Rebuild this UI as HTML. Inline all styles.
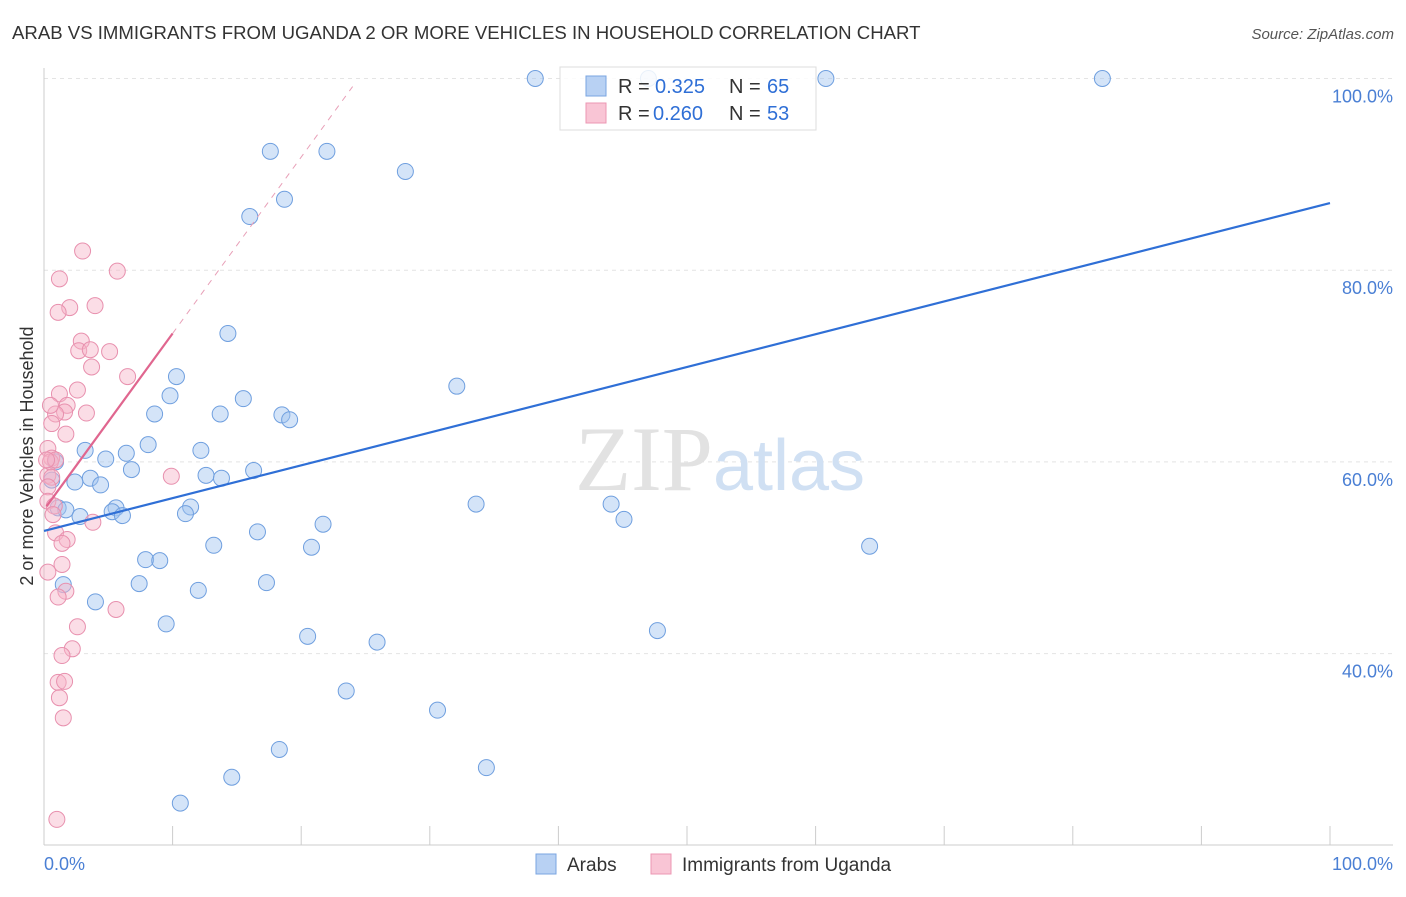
<!DOCTYPE html>
<html><head><meta charset="utf-8"><style>
body{margin:0;background:#fff;font-family:"Liberation Sans",sans-serif}
</style></head><body>
<svg width="1406" height="892" xmlns="http://www.w3.org/2000/svg" font-family="Liberation Sans, sans-serif">
<text x="12" y="39" font-size="18.6" fill="#333">ARAB VS IMMIGRANTS FROM UGANDA 2 OR MORE VEHICLES IN HOUSEHOLD CORRELATION CHART</text>
<text x="1394" y="39" font-size="15" fill="#555" text-anchor="end" font-style="italic">Source: ZipAtlas.com</text>
<g id="grid"></g>
<text x="720" y="490" font-size="92" text-anchor="middle" font-family="Liberation Serif, serif"><tspan fill="#e2e2e2">ZIP</tspan><tspan fill="#d0e0f3" font-family="Liberation Sans, sans-serif" font-size="72">atlas</tspan></text>
<g id="pts"></g>
<g id="lines"></g>
<text transform="translate(33,456) rotate(-90)" font-size="18" fill="#333" text-anchor="middle">2 or more Vehicles in Household</text>
<text x="44" y="870" font-size="18" fill="#4a7fd4">0.0%</text>
<text x="1393" y="870" font-size="18" fill="#4a7fd4" text-anchor="end">100.0%</text>
<g>
<rect x="560" y="67" width="256" height="63" fill="#fff" fill-opacity="0.85" stroke="#ddd"/>
<rect x="586" y="76" width="20" height="20" fill="#b8d1f3" stroke="#7aa5e0"/>
<rect x="586" y="103" width="20" height="20" fill="#f9c5d5" stroke="#ec97b3"/>
<text x="618" y="93" font-size="20" fill="#333">R =</text>
<text x="655" y="93" font-size="20" fill="#2f6fd6">0.325</text>
<text x="729" y="93" font-size="20" fill="#333">N =</text>
<text x="767" y="93" font-size="20" fill="#2f6fd6">65</text>
<text x="618" y="120" font-size="20" fill="#333">R =</text>
<text x="653" y="120" font-size="20" fill="#2f6fd6">0.260</text>
<text x="729" y="120" font-size="20" fill="#333">N =</text>
<text x="767" y="120" font-size="20" fill="#2f6fd6">53</text>
</g>
<g>
<rect x="536" y="854" width="20" height="20" fill="#b8d1f3" stroke="#7aa5e0"/>
<text x="567" y="871" font-size="19" fill="#333">Arabs</text>
<rect x="651" y="854" width="20" height="20" fill="#f9c5d5" stroke="#ec97b3"/>
<text x="682" y="871" font-size="19" fill="#333">Immigrants from Uganda</text>
</g>
</svg>
<script>
const yTicks=[40,60,80,100];
const yTickLabels=["40.0%","60.0%","80.0%","100.0%"];
const xTicks=[0,10,20,30,40,50,60,70,80,90,100];
const arabsX=[38.2,47.0,60.8,82.3,17.6,28.1,22.0,18.7,16.0,14.3,10.3,32.1,9.8,15.5,8.6,13.7,18.5,19.1,8.1,12.2,3.2,6.4,4.8,6.8,16.3,12.6,13.8,3.6,2.4,4.4,0.9,0.6,1.1,1.7,5.6,5.3,6.1,2.8,11.4,11.0,33.6,44.1,45.1,21.7,16.6,13.2,20.8,7.9,9.0,64.2,7.4,17.3,1.5,12.0,4.0,9.5,47.7,20.5,25.9,23.5,30.6,18.3,14.6,34.4,10.6];
const arabsY=[100,100,100,100,92.4,90.3,92.4,87.4,85.6,73.4,68.9,67.9,66.9,66.6,65.0,65.0,64.9,64.4,61.8,61.2,61.2,60.9,60.3,59.2,59.1,58.6,58.3,58.3,57.9,57.6,60.0,58.1,55.2,55.0,55.2,54.8,54.4,54.3,55.3,54.6,55.6,55.6,54.0,53.5,52.7,51.3,51.1,49.8,49.7,51.2,47.3,47.4,47.2,46.6,45.4,43.1,42.4,41.8,41.2,36.1,34.1,30.0,27.1,28.1,24.4];
const ugandaX=[3.0,5.7,1.2,3.970,2.0,1.1,2.9,2.7,3.6,5.1,3.7,6.5,2.6,1.2,1.8,1.6,0.9,3.3,1.7,0.6,0.5,0.3,0.6,0.3,0.6,0.3,0.3,0.8,0.7,3.8,0.9,1.8,1.4,9.9,1.4,0.3,1.7,1.1,5.6,2.6,2.2,1.4,1.1,1.6,1.2,1.5,1.0,0.5,0.9,0.2];
const ugandaY=[82.0,79.9,79.1,76.3,76.1,75.6,72.6,71.6,71.7,71.5,69.9,68.9,67.5,67.1,65.9,65.2,65.0,65.1,62.9,64.0,65.9,61.4,60.4,58.6,58.4,57.4,55.9,55.4,54.5,53.7,52.6,51.9,51.5,58.5,49.3,48.5,46.5,45.9,44.6,42.8,40.5,39.8,37.0,37.1,35.4,33.3,22.7,60.0,60.2,60.2];
const arabsLine=[52.8,87.0];
const ugandaLine=[55.0,73.4];
const NS="http://www.w3.org/2000/svg";
const X=v=>44+v*12.86, Y=v=>1037-v*9.585;
function mk(t,a,p){const e=document.createElementNS(NS,t);for(const k in a)e.setAttribute(k,a[k]);p.appendChild(e);return e;}
const grid=document.getElementById('grid');
yTicks.forEach((v,i)=>{
 const l=mk('line',{x1:44,x2:1393,y1:Y(v),y2:Y(v),stroke:'#e4e4e4','stroke-dasharray':'4,4'},grid);
 
 const t=mk('text',{x:1393,y:Y(v)+24,'font-size':18,fill:'#4a7fd4','text-anchor':'end'},grid);
 t.textContent=yTickLabels[i];
});
let a=mk('line',{x1:44,x2:44,y1:68,y2:845,stroke:'#ccc'},grid);
a=mk('line',{x1:44,x2:1393,y1:845,y2:845,stroke:'#ccc'},grid);
xTicks.forEach(v=>{const t=mk('line',{x1:X(v),x2:X(v),y1:826,y2:845,stroke:'#ccc'},grid);
 });
const pts=document.getElementById('pts');
arabsX.forEach((x,i)=>{const c=mk('circle',{cx:X(x),cy:Y(arabsY[i]),r:8,fill:'rgba(160,195,240,0.45)',stroke:'#6f9fdf','stroke-width':1},pts);
 });
ugandaX.forEach((x,i)=>{const c=mk('circle',{cx:X(x),cy:Y(ugandaY[i]),r:8,fill:'rgba(246,180,200,0.45)',stroke:'#e890ae','stroke-width':1},pts);
 });
const ln=document.getElementById('lines');
let l=mk('line',{x1:X(0),y1:Y(arabsLine[0]),x2:X(100),y2:Y(arabsLine[1]),stroke:'#2f6fd6','stroke-width':2.2},ln);

const s=(ugandaLine[1]-ugandaLine[0])/10;
l=mk('line',{x1:X(10),y1:Y(ugandaLine[1]),x2:X(24),y2:Y(ugandaLine[0]+s*24),stroke:'#e8a0b8','stroke-width':1,'stroke-dasharray':'6,6'},ln);

l=mk('line',{x1:X(0.2),y1:Y(ugandaLine[0]+s*0.2),x2:X(10),y2:Y(ugandaLine[1]),stroke:'#e0668f','stroke-width':2.2},ln);

</script>
</body></html>
